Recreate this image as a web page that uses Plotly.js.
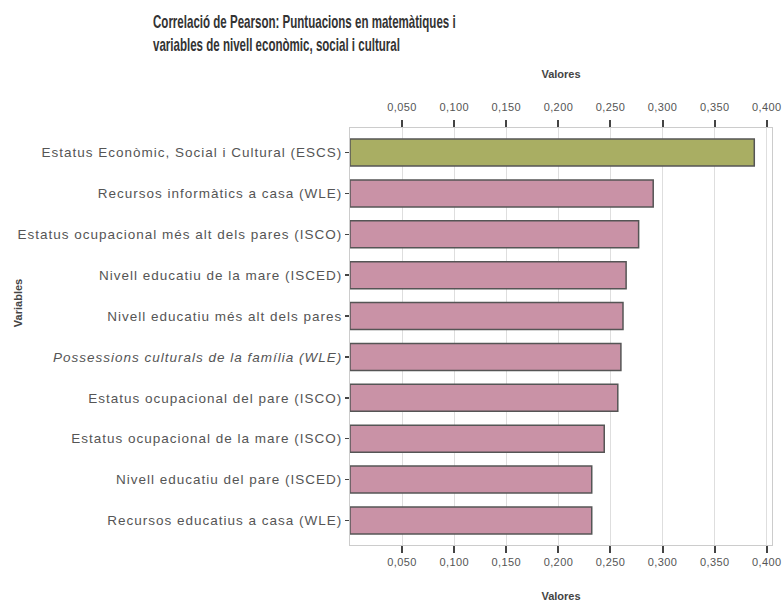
<!DOCTYPE html>
<html>
<head>
<meta charset="utf-8">
<script src="https://cdn.plot.ly/plotly-3.0.1.min.js"></script>
<style>
html,body{margin:0;padding:0;background:#fff;}
#chart{width:782px;height:602px;}
#chart .ytick text{letter-spacing:1px;}
#chart .xtick text, #chart .x2tick text{letter-spacing:0.4px;}
#chart .g-gtitle{transform-box:fill-box;transform-origin:0 0;transform:scaleX(0.66);}
</style>
</head>
<body>
<div id="chart"></div>
<script>
// Categories (top to bottom)
const categories = [
  "Estatus Econòmic, Social i Cultural (ESCS)",
  "Recursos informàtics a casa (WLE)",
  "Estatus ocupacional més alt dels pares (ISCO)",
  "Nivell educatiu de la mare (ISCED)",
  "Nivell educatiu més alt dels pares",
  "<i>Possessions culturals de la família (WLE)</i>",
  "Estatus ocupacional del pare (ISCO)",
  "Estatus ocupacional de la mare (ISCO)",
  "Nivell educatiu del pare (ISCED)",
  "Recursos educatius a casa (WLE)"
];
// Pearson correlation values
const values = [0.388, 0.291, 0.277, 0.265, 0.262, 0.260, 0.257, 0.244, 0.232, 0.232];
const tickVals = [0.05, 0.10, 0.15, 0.20, 0.25, 0.30, 0.35, 0.40];

const green = "#a9ae63";
const pink = "#c992a6";
const colors = values.map((v, i) => i === 0 ? green : pink);

const bars = {
  type: "bar",
  orientation: "h",
  x: values,
  y: categories,
  marker: {color: colors, line: {color: "#555555", width: 1.5}},
  hoverinfo: "x+y",
  xaxis: "x",
  yaxis: "y"
};
const ghost = {
  type: "scatter",
  mode: "markers",
  x: values,
  y: categories,
  marker: {opacity: 0},
  hoverinfo: "skip",
  showlegend: false,
  xaxis: "x2",
  yaxis: "y"
};

const tickFont = {family: "Liberation Sans, Arial, sans-serif", size: 11, color: "#555"};
const axisCommon = {
  range: [0, 0.405],
  tickvals: tickVals,
  tickformat: ".3f",
  ticks: "outside",
  ticklen: 7,
  tickwidth: 2,
  tickcolor: "#444",
  tickfont: tickFont,
  showgrid: true,
  gridcolor: "#dedede",
  gridwidth: 1,
  zeroline: false,
  showline: true,
  linecolor: "#cccccc",
  linewidth: 1,
  fixedrange: true
};

const layout = {
  width: 782,
  height: 602,
  separators: ",.",
  paper_bgcolor: "#ffffff",
  plot_bgcolor: "#ffffff",
  showlegend: false,
  bargap: 0.34,
  margin: {l: 350, r: 10, t: 128, b: 57, pad: 0},
  font: {family: "Liberation Sans, Arial, sans-serif", color: "#444"},
  title: {
    text: "Correlació de Pearson: Puntuacions en matemàtiques i<br>variables de nivell econòmic, social i cultural",
    font: {family: "Liberation Sans, Arial, sans-serif", size: 17.5, color: "#333", weight: "bold"},
    xref: "container", yref: "container",
    x: 153 / 782, xanchor: "left",
    y: 1 - 28 / 602, yanchor: "top"
  },
  xaxis: Object.assign({}, axisCommon, {
    side: "bottom",
    title: {text: "<b>Valores</b>", font: {size: 11, color: "#444"}, standoff: 28}
  }),
  xaxis2: Object.assign({}, axisCommon, {
    side: "top",
    overlaying: "x",
    showgrid: false,
    ticklabelstandoff: 5,
    title: {text: "<b>Valores</b>", font: {size: 11, color: "#444"}, standoff: 19}
  }),
  yaxis: {
    type: "category",
    autorange: "reversed",
    ticks: "outside",
    ticklen: 4,
    tickwidth: 1.5,
    tickcolor: "#444",
    tickfont: {family: "Liberation Sans, Arial, sans-serif", size: 13.5, color: "#555"},
    showline: true,
    linecolor: "#cccccc",
    mirror: true,
    showgrid: false,
    zeroline: false,
    fixedrange: true
  },
  annotations: [{
    text: "<b>Variables</b>",
    xref: "paper", yref: "paper",
    x: (18 - 350) / 422, y: 0.58,
    xanchor: "center", yanchor: "middle",
    textangle: -90,
    showarrow: false,
    font: {family: "Liberation Sans, Arial, sans-serif", size: 11, color: "#444"}
  }]
};

Plotly.newPlot("chart", [bars, ghost], layout, {displayModeBar: false, staticPlot: true});
</script>
</body>
</html>
